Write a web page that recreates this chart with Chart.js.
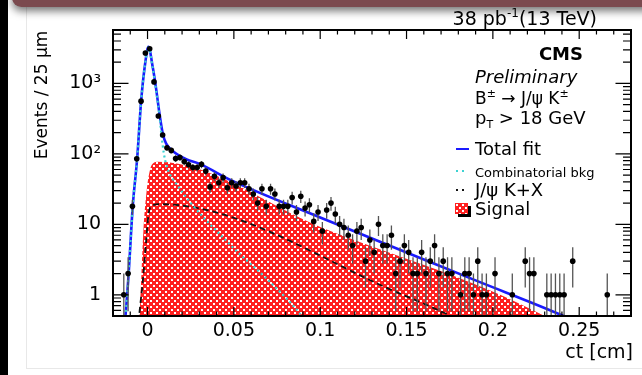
<!DOCTYPE html>
<html>
<head>
<meta charset="utf-8">
<script src="https://cdn.jsdelivr.net/npm/chart.js@4.4.1/dist/chart.umd.min.js"></script>
<style>
  html, body { margin: 0; padding: 0; background: #fff; }
  body { width: 642px; height: 375px; position: relative; overflow: hidden; }
  #side { position: absolute; left: 0; top: 0; width: 8px; height: 375px; background: #000; }
  #bar { position: absolute; left: 12px; top: -12px; width: 660px; height: 19px; background: #7b4a4f;
         border-radius: 10px; box-shadow: 0 4px 8px rgba(0,0,0,0.55); }
  #box { position: absolute; left: 26px; top: -5px; width: 700px; height: 372px; border: 1px solid #e8e8e8; }
  #c { position: absolute; left: 0; top: 0; }
</style>
</head>
<body>
<div id="box"></div>
<div id="side"></div>
<div id="bar"></div>
<canvas id="c" width="642" height="375"></canvas>
<script>
// histogram: 25 um bins from -0.02 to 0.28 cm
var binStart = -0.02;
var binWidth = 0.0025;
var counts = [
  0, 0, 1, 2, 18, 85, 560, 2700, 3100, 1050,
  345, 185, 122, 112, 86, 89, 78, 70, 64, 64,
  71, 57, 34, 48, 39, 46, 33, 39, 35, 39,
  39, 32, 27, 20, 32, 18, 32, 27, 18, 18,
  18, 24, 15, 25, 17, 19, 11, 15, 8, 16,
  20, 14, 10, 9, 7, 5, 8, 9, 3, 6,
  4, 10, 5, 5, 7, 2, 3, 5, 4, 2,
  2, 4, 2, 3, 5, 2, 3, 2, 2, 0,
  1, 2, 2, 1, 3, 1, 1, 0, 2, 0,
  0, 0, 1, 0, 0, 3, 2, 2, 0, 0,
  1, 1, 1, 1, 1, 0, 3, 0, 0, 0,
  0, 0, 0, 0, 1, 0, 0, 0, 0, 0
];

// fit curves (ct in cm, events)
var fitX = [-0.0140, -0.0128, -0.0110, -0.0085, -0.0060, -0.0037, -0.0014, 0.0005, 0.0031, 0.0050, 0.0070, 0.0089, 0.0108, 0.0146, 0.0224, 0.0302, 0.0486, 0.1000, 0.1900, 0.2410, 0.2450];
var fitY = [0.3, 0.5, 1.9, 19, 86, 565, 1900, 3300, 1650, 830, 360, 190, 140, 110, 84, 72, 42, 12.5, 1.6, 0.5, 0.45];

var combX = [-0.0140, -0.0128, -0.0110, -0.0085, -0.0060, -0.0037, -0.0014, 0.0005, 0.0031, 0.0050, 0.0070, 0.0080, 0.0095, 0.0110, 0.0180, 0.0480, 0.0700, 0.0880, 0.0920];
var combY = [0.3, 0.5, 1.9, 19, 86, 560, 1880, 3250, 1600, 790, 330, 190, 100, 68, 34, 5.1, 1.6, 0.55, 0.4];

var jpsiX = [-0.0052, -0.0047, -0.0027, -0.0008, 0.0006, 0.0027, 0.0070, 0.1500, 0.1800];
var jpsiY = [0.4, 0.55, 1.6, 5.8, 14, 18.5, 19.3, 0.95, 0.45];

var sigX = [-0.0052, -0.0045, -0.0024, -0.0005, 0.0015, 0.0035, 0.0060, 0.1000, 0.2300, 0.2360];
var sigY = [0.3, 0.55, 8, 30, 60, 74, 77, 9.2, 0.5, 0.4];

var xTickValues = [0, 0.05, 0.1, 0.15, 0.2, 0.25];
var xTickLabels = ['0', '0.05', '0.1', '0.15', '0.2', '0.25'];
var yTickValues = [1, 10, 100, 1000];
var yTickLabels = ['1', '10', '10\u00b2', '10\u00b3'];

var FONT = "'DejaVu Sans', sans-serif";

function binCenter(i){
  return binStart + binWidth*(i + 0.5);
}

function points(xs, ys){
  var out = [];
  for (var i = 0; i < xs.length; i++) out.push({x: xs[i], y: ys[i]});
  return out;
}

function histPoints(){
  var out = [];
  for (var i = 0; i < counts.length; i++) {
    if (counts[i] > 0) out.push({x: binCenter(i), y: counts[i]});
  }
  return out;
}

var ctx = document.getElementById('c').getContext('2d');

// ROOT style red mesh, a bit coarse so it stays bright
function mesh(){
  var c = document.createElement('canvas');
  c.width = 6; c.height = 6;
  var g = c.getContext('2d');
  g.fillStyle = '#ff2020';
  g.fillRect(0, 0, 6, 6);
  g.fillStyle = '#ffffff';
  g.fillRect(0, 0, 2, 2);
  g.fillRect(3, 3, 2, 2);
  return ctx.createPattern(c, 'repeat');
}
var redMesh = mesh();

function drawErrors(chart){
  var xs = chart.scales.x, ys = chart.scales.y, a = chart.chartArea;
  var g = chart.ctx;
  g.save();
  g.beginPath();
  g.rect(a.left, a.top, a.right - a.left, a.bottom - a.top);
  g.clip();
  g.strokeStyle = '#555';
  g.lineWidth = 1.3;
  for (var i = 0; i < counts.length; i++) {
    var n = counts[i];
    if (n <= 0) continue;
    var e = Math.sqrt(n);
    var px = xs.getPixelForValue(binCenter(i));
    var py = ys.getPixelForValue(n);
    var hi = ys.getPixelForValue(n + e);
    var lo = n - e > 0 ? ys.getPixelForValue(n - e) : a.bottom;
    g.beginPath();
    g.moveTo(px, hi); g.lineTo(px, lo);
    g.moveTo(xs.getPixelForValue(binCenter(i) - binWidth/2), py);
    g.lineTo(xs.getPixelForValue(binCenter(i) + binWidth/2), py);
    g.stroke();
  }
  g.restore();
}

function drawFrame(chart){
  var xs = chart.scales.x, ys = chart.scales.y, a = chart.chartArea;
  var g = chart.ctx;
  g.save();
  g.strokeStyle = '#000';
  g.lineWidth = 1.2;
  g.beginPath();
  // x ticks, top and bottom
  for (var k = -2; k <= 28; k++) {
    var v = k/100;
    var px = xs.getPixelForValue(v);
    var len = (k % 5 === 0) ? 9 : 4.5;
    g.moveTo(px, a.bottom); g.lineTo(px, a.bottom - len);
    g.moveTo(px, a.top); g.lineTo(px, a.top + len);
  }
  // y ticks, left and right (log)
  for (var d = -1; d <= 3; d++) {
    for (var m = 1; m <= 9; m++) {
      var val = m*Math.pow(10, d);
      if (val < ys.min || val > ys.max) continue;
      var py = ys.getPixelForValue(val);
      var l2 = (m === 1) ? 15.5 : 8;
      g.moveTo(a.left, py); g.lineTo(a.left + l2, py);
      g.moveTo(a.right, py); g.lineTo(a.right - l2, py);
    }
  }
  g.stroke();
  g.lineWidth = 2;
  g.strokeRect(a.left, a.top, a.right - a.left, a.bottom - a.top);
  g.restore();
}

function drawParts(g, parts, x, y){
  for (var i = 0; i < parts.length; i++) {
    g.font = parts[i][1];
    g.fillText(parts[i][0], x, y + parts[i][2]);
    x += g.measureText(parts[i][0]).width;
  }
  return x;
}

function partsWidth(g, parts){
  var w = 0;
  for (var i = 0; i < parts.length; i++) {
    g.font = parts[i][1];
    w += g.measureText(parts[i][0]).width;
  }
  return w;
}

function drawTexts(chart){
  var g = chart.ctx;
  g.save();
  g.fillStyle = '#000';
  g.textBaseline = 'alphabetic';
  g.textAlign = 'left';

  var f19 = '19px ' + FONT, f18 = '18px ' + FONT, f17 = '17px ' + FONT, f12 = '12px ' + FONT, f11 = '11px ' + FONT;

  var lumi = [['38 pb', f19, 0], ['-1', f12, -8], ['(13 TeV)', f19, 0]];
  drawParts(g, lumi, 597 - partsWidth(g, lumi), 25);

  g.font = 'bold 18px ' + FONT;
  g.textAlign = 'right';
  g.fillText('CMS', 583, 60);
  g.textAlign = 'left';

  g.font = 'italic 18px ' + FONT;
  g.fillText('Preliminary', 475, 83);

  drawParts(g, [['B', f17, 0], ['\u00b1', f11, -7], [' \u2192 J/\u03c8 K', f17, 0], ['\u00b1', f11, -7]], 475, 104);
  drawParts(g, [['p', f18, 0], ['T', f11, 4], [' > 18 GeV', f18, 0]], 475, 124);

  // legend
  g.font = f18;
  g.fillText('Total fit', 475, 155);
  g.font = '13px ' + FONT;
  g.fillText('Combinatorial bkg', 475, 177);
  g.font = f18;
  g.fillText('J/\u03c8 K+X', 475, 196);
  g.fillText('Signal', 475, 215);

  g.lineWidth = 2;
  g.strokeStyle = '#1a1aff';
  g.beginPath(); g.moveTo(456, 149); g.lineTo(469, 149); g.stroke();
  g.strokeStyle = '#3cd2d2';
  g.setLineDash([2, 4]);
  g.beginPath(); g.moveTo(456, 171); g.lineTo(468, 171); g.stroke();
  g.strokeStyle = '#111';
  g.beginPath(); g.moveTo(456, 190); g.lineTo(468, 190); g.stroke();
  g.setLineDash([]);
  g.fillStyle = '#000';
  g.fillRect(458, 206, 13, 11);
  g.fillStyle = redMesh;
  g.fillRect(455, 203, 13, 11);

  // axis titles
  g.fillStyle = '#000';
  g.font = '19px ' + FONT;
  g.textAlign = 'right';
  g.fillText('ct [cm]', 633, 358);
  g.save();
  g.translate(47, 95);
  g.rotate(-Math.PI/2);
  g.textAlign = 'center';
  g.font = '17px ' + FONT;
  g.fillText('Events / 25 \u03bcm', 0, 0);
  g.restore();

  g.restore();
}

var rootStyle = {
  id: 'rootStyle',
  beforeDatasetDraw: function(chart, args){
    if (args.index === 0) drawErrors(chart);
  },
  afterDatasetsDraw: function(chart){
    drawFrame(chart);
    drawTexts(chart);
  }
};

var chart = new Chart(ctx, {
  type: 'scatter',
  data: {
    datasets: [
      {
        label: 'Data',
        data: histPoints(),
        showLine: false,
        pointRadius: 2.8,
        pointBackgroundColor: '#000',
        pointBorderWidth: 0
      },
      {
        label: 'Combinatorial bkg',
        data: points(combX, combY),
        showLine: true,
        borderColor: '#3cd2d2',
        borderWidth: 2.2,
        borderDash: [2, 3],
        pointRadius: 0,
        cubicInterpolationMode: 'monotone'
      },
      {
        label: 'Total fit',
        data: points(fitX, fitY),
        showLine: true,
        borderColor: '#1a1aff',
        borderWidth: 2.6,
        pointRadius: 0,
        cubicInterpolationMode: 'monotone'
      },
      {
        label: 'J/psi K+X',
        data: points(jpsiX, jpsiY),
        showLine: true,
        borderColor: '#111',
        borderWidth: 1.8,
        borderDash: [6, 4],
        pointRadius: 0,
        cubicInterpolationMode: 'monotone'
      },
      {
        label: 'Signal',
        data: points(sigX, sigY),
        showLine: true,
        borderWidth: 0,
        borderColor: 'rgba(0,0,0,0)',
        backgroundColor: redMesh,
        fill: 'start',
        pointRadius: 0,
        cubicInterpolationMode: 'monotone'
      }
    ]
  },
  options: {
    responsive: false,
    animation: false,
    devicePixelRatio: 1,
    layout: { padding: { top: 30, right: 11, left: 0, bottom: 0 } },
    plugins: { legend: { display: false }, tooltip: { enabled: false } },
    scales: {
      x: {
        type: 'linear',
        min: -0.02,
        max: 0.28,
        grid: { display: false, drawTicks: false },
        border: { display: false },
        afterBuildTicks: function(s){ s.ticks = xTickValues.map(function(v){ return {value: v}; }); },
        afterFit: function(s){ s.height = 59; },
        ticks: {
          padding: 4,
          maxRotation: 0,
          color: '#000',
          font: { family: FONT, size: 19 },
          callback: function(v, i){ return xTickLabels[i]; }
        }
      },
      y: {
        type: 'logarithmic',
        min: 0.5,
        max: 5730,
        grid: { display: false, drawTicks: false },
        border: { display: false },
        afterBuildTicks: function(s){ s.ticks = yTickValues.map(function(v){ return {value: v}; }); },
        afterFit: function(s){ s.width = 113; },
        ticks: {
          padding: 12,
          color: '#000',
          font: { family: FONT, size: 19 },
          callback: function(v, i){ return yTickLabels[i]; }
        }
      }
    }
  },
  plugins: [rootStyle]
});
</script>
</body>
</html>
